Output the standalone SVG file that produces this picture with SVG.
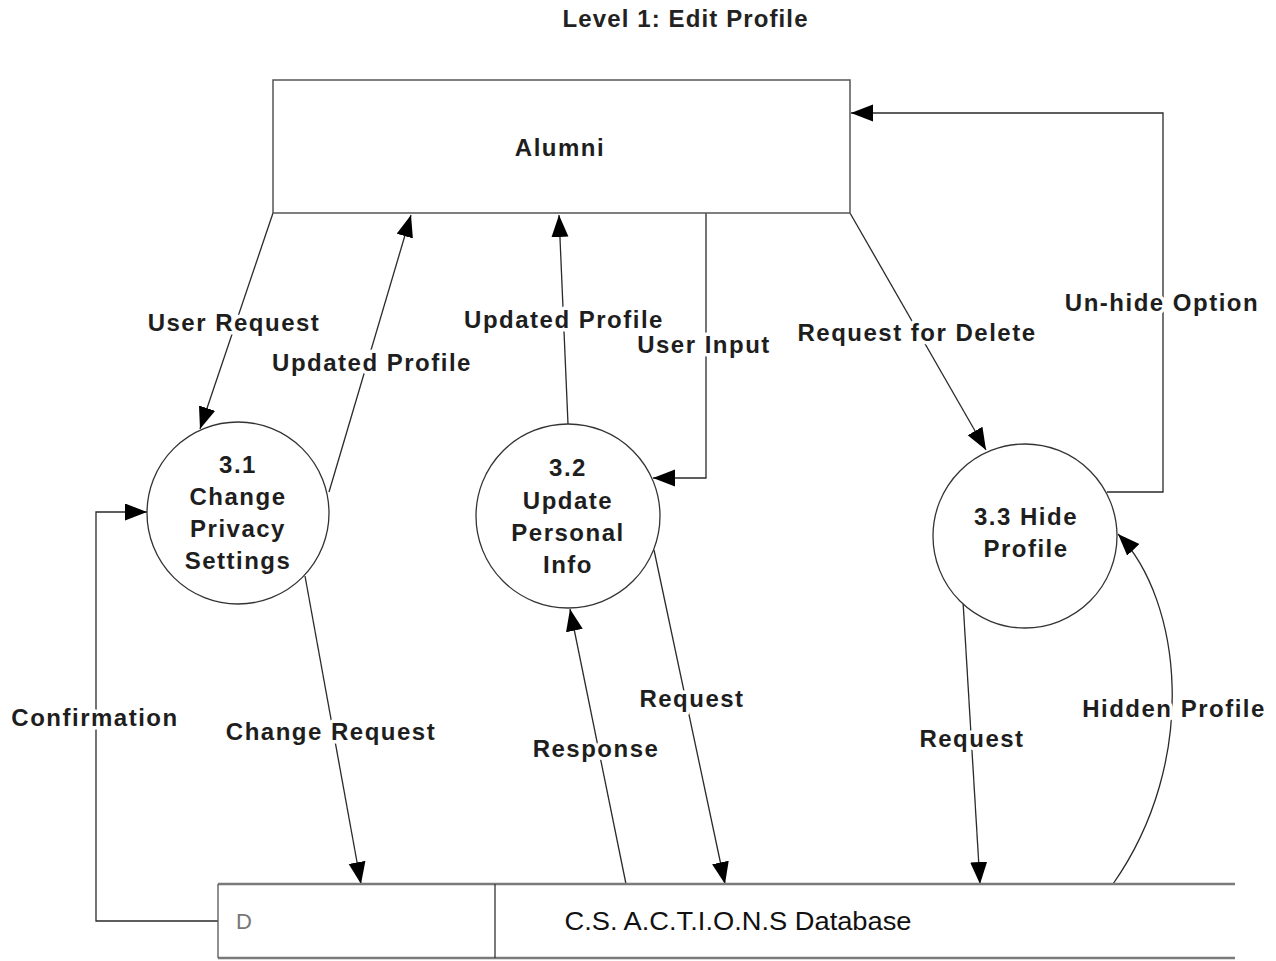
<svg xmlns="http://www.w3.org/2000/svg" width="1276" height="961" viewBox="0 0 1276 961">
  <style>
    .lbl { font-family: "Liberation Sans", Arial, sans-serif; font-size: 24px; font-weight: bold; fill: #1e1e1e; text-anchor: middle; dominant-baseline: central; letter-spacing: 1.5px; paint-order: stroke; stroke: #ffffff; stroke-width: 7px; stroke-linejoin: round; }
    .ntxt { font-family: "Liberation Sans", Arial, sans-serif; font-size: 24px; font-weight: bold; fill: #1e1e1e; text-anchor: middle; dominant-baseline: central; letter-spacing: 1.5px; }
    .title { font-family: "Liberation Sans", Arial, sans-serif; font-size: 24px; font-weight: bold; fill: #222; text-anchor: middle; dominant-baseline: central; }
    .flow { fill: none; stroke: #2a2a2a; stroke-width: 1.3; marker-end: url(#arrow); }
    .proc { fill: #ffffff; stroke: #333; stroke-width: 1.3; }
    .store { fill: none; stroke: #7a7a7a; stroke-width: 2.5; }
  </style>
  <defs>
    <marker id="arrow" markerUnits="userSpaceOnUse" markerWidth="24" markerHeight="18" refX="22" refY="8.5" orient="auto">
      <path d="M0,0 L22,8.5 L0,17 Z" fill="#000"/>
    </marker>
  </defs>
  <rect width="1276" height="961" fill="#ffffff"/>

  <text class="title" x="685" y="18" textLength="245" lengthAdjust="spacing">Level 1: Edit Profile</text>

  <!-- data flows -->
  <g id="connectors">
    <path id="f-user-request" class="flow" d="M273,213 L200,429"/>
    <path id="f-updated-profile-1" class="flow" d="M329,492 L411,215"/>
    <path id="f-updated-profile-2" class="flow" d="M568,424 L559,215"/>
    <path id="f-user-input" class="flow" d="M706,213 V478 H653"/>
    <path id="f-request-delete" class="flow" d="M850,213 L986,450"/>
    <path id="f-unhide" class="flow" d="M1107,492 H1163 V113 H851"/>
    <path id="f-change-request" class="flow" d="M305,576 L361,884"/>
    <path id="f-confirmation" class="flow" d="M218,921 H96 V512 H147"/>
    <path id="f-response" class="flow" d="M626,884 L570,609"/>
    <path id="f-request-2" class="flow" d="M654,550 L725,884"/>
    <path id="f-request-3" class="flow" d="M963,601 L980,884"/>
    <path id="f-hidden-profile" class="flow" d="M1113,884 C1200,760 1182,600 1118,534"/>

    <text class="lbl" x="234" y="322">User Request</text>
    <text class="lbl" x="372" y="362">Updated Profile</text>
    <text class="lbl" x="564" y="319">Updated Profile</text>
    <text class="lbl" x="704" y="344">User Input</text>
    <text class="lbl" x="917" y="332">Request for Delete</text>
    <text class="lbl" x="1162" y="302">Un-hide Option</text>
    <text class="lbl" x="95" y="717">Confirmation</text>
    <text class="lbl" x="331" y="731">Change Request</text>
    <text class="lbl" x="596" y="748">Response</text>
    <text class="lbl" x="692" y="698">Request</text>
    <text class="lbl" x="972" y="738">Request</text>
    <text class="lbl" x="1174" y="708">Hidden Profile</text>
  </g>

  <!-- external entity -->
  <g id="alumni">
    <rect x="273" y="80" width="577" height="133" fill="none" stroke="#555" stroke-width="1.5"/>
    <text class="ntxt" x="560" y="147">Alumni</text>
  </g>

  <!-- processes -->
  <g id="p3-1">
    <circle class="proc" cx="238" cy="513" r="91"/>
    <text class="ntxt" x="238" y="464">3.1</text>
    <text class="ntxt" x="238" y="496">Change</text>
    <text class="ntxt" x="238" y="528">Privacy</text>
    <text class="ntxt" x="238" y="560">Settings</text>
  </g>
  <g id="p3-2">
    <circle class="proc" cx="568" cy="516" r="92"/>
    <text class="ntxt" x="568" y="467">3.2</text>
    <text class="ntxt" x="568" y="500">Update</text>
    <text class="ntxt" x="568" y="532">Personal</text>
    <text class="ntxt" x="568" y="564">Info</text>
  </g>
  <g id="p3-3">
    <circle class="proc" cx="1025" cy="536" r="92"/>
    <text class="ntxt" x="1026" y="516">3.3 Hide</text>
    <text class="ntxt" x="1026" y="548">Profile</text>
  </g>

  <!-- data store -->
  <g id="datastore">
    <line class="store" x1="218" y1="884" x2="1235" y2="884"/>
    <line class="store" x1="218" y1="958" x2="1235" y2="958"/>
    <line x1="218" y1="884" x2="218" y2="958" stroke="#555" stroke-width="1.3"/>
    <line x1="495" y1="884" x2="495" y2="958" stroke="#333" stroke-width="1.3"/>
    <text x="244" y="921" font-family="Liberation Sans, Arial, sans-serif" font-size="22" fill="#777" text-anchor="middle" dominant-baseline="central">D</text>
    <text x="738" y="921" font-family="Liberation Sans, Arial, sans-serif" font-size="25" fill="#111" text-anchor="middle" dominant-baseline="central" textLength="347" lengthAdjust="spacingAndGlyphs">C.S. A.C.T.I.O.N.S Database</text>
  </g>
</svg>
